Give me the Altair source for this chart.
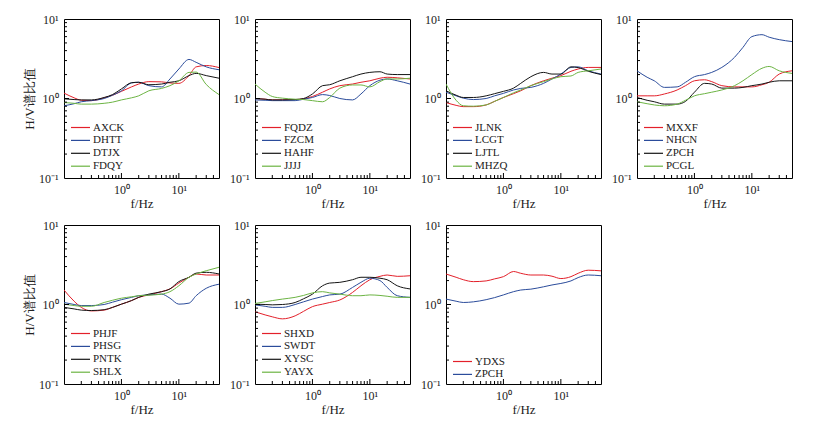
import altair as alt
import pandas as pd

# Frequencies (Hz) at which the curves were read
freq = [0.1, 0.15, 0.2, 0.3, 0.5, 0.7, 1, 1.5, 2, 3, 5, 7, 10, 15, 20, 30, 50]

# Panel 1
AXCK = [1.17, 1.02, 0.95, 0.94, 1.02, 1.1, 1.23, 1.4, 1.52, 1.63, 1.62, 1.57, 1.55, 1.94, 2.5, 2.6, 2.45]
DHTT = [0.81, 0.86, 0.91, 0.94, 1.0, 1.1, 1.25, 1.57, 1.6, 1.45, 1.4, 1.76, 2.35, 3.1, 2.85, 2.5, 2.3]
DTJX = [0.99, 0.97, 0.96, 0.96, 1.03, 1.12, 1.32, 1.58, 1.6, 1.49, 1.52, 1.6, 1.67, 1.94, 2.07, 1.94, 1.8]
FDQY = [0.89, 0.87, 0.85, 0.85, 0.87, 0.9, 0.96, 1.02, 1.08, 1.25, 1.34, 1.45, 1.67, 2.13, 2.15, 1.5, 1.12]
# Panel 2
FQDZ = [1.0, 0.98, 0.96, 0.96, 0.97, 0.99, 1.06, 1.2, 1.32, 1.45, 1.52, 1.6, 1.67, 1.8, 1.85, 1.82, 1.76]
FZCM = [0.96, 0.95, 0.94, 0.94, 0.94, 0.98, 1.03, 1.12, 1.09, 1.0, 0.96, 1.14, 1.45, 1.7, 1.76, 1.67, 1.52]
HAHF = [1.0, 0.98, 0.96, 0.96, 0.97, 1.0, 1.14, 1.45, 1.49, 1.67, 1.88, 2.03, 2.13, 2.17, 2.03, 2.0, 2.0]
JJJJ = [1.52, 1.2, 1.06, 1.01, 0.98, 0.97, 0.94, 0.91, 1.03, 1.35, 1.48, 1.48, 1.4, 1.63, 1.76, 1.76, 1.8]
# Panel 3
JLNK = [0.89, 0.82, 0.79, 0.79, 0.83, 0.92, 1.03, 1.15, 1.25, 1.45, 1.67, 1.8, 1.94, 2.2, 2.35, 2.46, 2.46]
LCGT = [1.2, 1.08, 1.01, 0.97, 1.0, 1.08, 1.16, 1.28, 1.34, 1.38, 1.55, 1.76, 2.03, 2.46, 2.5, 2.23, 2.03]
LJTL = [1.25, 1.1, 1.03, 1.03, 1.08, 1.15, 1.23, 1.35, 1.55, 1.88, 2.13, 2.03, 2.03, 2.5, 2.45, 2.2, 2.0]
MHZQ = [1.52, 0.95, 0.81, 0.8, 0.83, 0.92, 1.03, 1.18, 1.28, 1.45, 1.63, 1.76, 1.88, 1.92, 2.13, 2.23, 2.35]
# Panel 4
MXXF = [1.08, 1.08, 1.08, 1.14, 1.28, 1.45, 1.67, 1.72, 1.63, 1.45, 1.4, 1.4, 1.4, 1.49, 1.6, 2.03, 2.23]
NHCN = [2.23, 1.85, 1.67, 1.38, 1.4, 1.6, 1.88, 2.0, 2.13, 2.46, 3.3, 4.4, 6.0, 6.35, 5.9, 5.5, 5.2]
ZPCH4 = [1.03, 0.95, 0.91, 0.85, 0.85, 0.92, 1.2, 1.55, 1.52, 1.35, 1.35, 1.38, 1.45, 1.52, 1.6, 1.67, 1.67]
PCGL = [0.91, 0.86, 0.83, 0.81, 0.85, 0.95, 1.08, 1.15, 1.2, 1.28, 1.45, 1.67, 2.0, 2.4, 2.53, 2.23, 2.07]
# Panel 5
PHJF = [1.52, 1.1, 0.92, 0.83, 0.85, 0.92, 1.01, 1.12, 1.23, 1.32, 1.45, 1.57, 1.86, 2.2, 2.42, 2.35, 2.35]
PHSG = [1.06, 1.0, 0.97, 0.97, 1.0, 1.07, 1.15, 1.23, 1.29, 1.32, 1.35, 1.2, 1.01, 1.04, 1.29, 1.6, 1.8]
PNTK = [0.92, 0.88, 0.85, 0.84, 0.86, 0.92, 1.01, 1.12, 1.23, 1.35, 1.45, 1.57, 1.94, 2.2, 2.48, 2.54, 2.42]
SHLX = [1.01, 0.97, 0.95, 0.95, 1.06, 1.13, 1.2, 1.25, 1.29, 1.31, 1.35, 1.45, 1.72, 2.2, 2.42, 2.66, 2.94]
# Panel 6
SHXD = [0.81, 0.74, 0.7, 0.66, 0.72, 0.82, 0.94, 1.01, 1.06, 1.14, 1.42, 1.72, 2.05, 2.26, 2.35, 2.26, 2.3]
SWDT = [0.99, 0.95, 0.92, 0.92, 1.0, 1.08, 1.17, 1.26, 1.32, 1.35, 1.64, 1.9, 2.14, 2.0, 1.64, 1.29, 1.23]
XYSC = [1.01, 1.0, 0.99, 1.0, 1.06, 1.18, 1.35, 1.72, 1.86, 1.9, 2.05, 2.2, 2.2, 2.14, 2.05, 1.72, 1.57]
YAYX = [1.03, 1.08, 1.12, 1.17, 1.23, 1.3, 1.4, 1.45, 1.4, 1.35, 1.29, 1.29, 1.32, 1.3, 1.27, 1.23, 1.23]
# Panel 7
YDXS = [2.42, 2.2, 2.05, 1.94, 1.98, 2.1, 2.24, 2.6, 2.47, 2.35, 2.35, 2.27, 2.12, 2.24, 2.47, 2.7, 2.65]
ZPCH7 = [1.17, 1.1, 1.06, 1.08, 1.15, 1.22, 1.32, 1.45, 1.52, 1.56, 1.67, 1.76, 1.84, 1.98, 2.18, 2.35, 2.3]

panels = [
    (["AXCK", "DHTT", "DTJX", "FDQY"], [AXCK, DHTT, DTJX, FDQY]),
    (["FQDZ", "FZCM", "HAHF", "JJJJ"], [FQDZ, FZCM, HAHF, JJJJ]),
    (["JLNK", "LCGT", "LJTL", "MHZQ"], [JLNK, LCGT, LJTL, MHZQ]),
    (["MXXF", "NHCN", "ZPCH", "PCGL"], [MXXF, NHCN, ZPCH4, PCGL]),
    (["PHJF", "PHSG", "PNTK", "SHLX"], [PHJF, PHSG, PNTK, SHLX]),
    (["SHXD", "SWDT", "XYSC", "YAYX"], [SHXD, SWDT, XYSC, YAYX]),
    (["YDXS", "ZPCH"], [YDXS, ZPCH7]),
]

colors = ["#e3202a", "#2b4c9b", "#151515", "#6cb443"]

x_major = [1, 10]
x_minor = [0.2, 0.3, 0.4, 0.5, 0.6, 0.7, 0.8, 0.9, 2, 3, 4, 5, 6, 7, 8, 9, 20, 30, 40]
y_major = [1]
y_minor = [0.2, 0.3, 0.4, 0.5, 0.6, 0.7, 0.8, 0.9, 2, 3, 4, 5, 6, 7, 8, 9]

W, H = 155, 159
X_DEC = W / 2.69897   # pixels per decade on x (0.1 .. 50)
Y_DEC = H / 2.0       # pixels per decade on y (0.1 .. 10)
SERIF = "Liberation Serif"
LABEL_EXPR = "datum.value < 0.5 ? '10\u207b\u00b9' : (datum.value < 5 ? '10\u2070' : '10\u00b9')"


def panel(names, series, show_ytitle):
    rows = []
    for n, s in zip(names, series):
        for f, v in zip(freq, s):
            rows.append({"station": n, "f": f, "hv": v})
    df = pd.DataFrame(rows)
    xt_df = pd.DataFrame({"t": x_major + x_minor,
                          "len": [5] * len(x_major) + [3] * len(x_minor)})
    yt_df = pd.DataFrame({"t": y_major + y_minor,
                          "len": [5] * len(y_major) + [3] * len(y_minor)})

    xs = alt.Scale(type="log", domain=[0.1, 50], nice=False)
    ys = alt.Scale(type="log", domain=[0.1, 10], nice=False)
    xaxis = alt.Axis(values=x_major, labelExpr=LABEL_EXPR, title="f/Hz",
                     ticks=False, tickSize=0, grid=False, domain=False,
                     labelPadding=6, titlePadding=2)
    yaxis = alt.Axis(values=[0.1, 1, 10], labelExpr=LABEL_EXPR,
                     title=("H/V谱比值" if show_ytitle else ""),
                     ticks=False, tickSize=0, grid=False, domain=False,
                     labelPadding=6, titlePadding=2)
    legend_y = 102 if len(names) == 4 else 130

    lines = alt.Chart(df).mark_line(strokeWidth=1, interpolate="monotone", clip=True).encode(
        x=alt.X("f:Q", scale=xs, axis=xaxis),
        y=alt.Y("hv:Q", scale=ys, axis=yaxis),
        color=alt.Color("station:N",
                        scale=alt.Scale(domain=names, range=colors[:len(names)]),
                        legend=alt.Legend(orient="none", legendX=10, legendY=legend_y,
                                          padding=0,
                                          symbolType="M-1.67,0H1.67", symbolSize=130,
                                          symbolStrokeWidth=1.2, labelFont=SERIF,
                                          labelFontSize=11, labelOffset=6, rowPadding=0.9,
                                          labelColor="#222222", title=None)),
        detail="station:N",
    )
    # inward ticks: bottom edge (y from 0.1 up by `len` pixels), left edge likewise
    xt = alt.Chart(xt_df).transform_calculate(
        y0="0.1", y1=f"0.1 * pow(10, datum.len / {Y_DEC})"
    ).mark_rule(color="black", strokeWidth=1).encode(
        x=alt.X("t:Q", scale=xs, axis=xaxis),
        y=alt.Y("y0:Q", scale=ys, axis=yaxis),
        y2="y1:Q",
    )
    yt = alt.Chart(yt_df).transform_calculate(
        x0="0.1", x1=f"0.1 * pow(10, datum.len / {X_DEC})"
    ).mark_rule(color="black", strokeWidth=1).encode(
        y=alt.Y("t:Q", scale=ys, axis=yaxis),
        x=alt.X("x0:Q", scale=xs, axis=xaxis),
        x2="x1:Q",
    )
    return alt.layer(lines, xt, yt).properties(width=W, height=H)


charts = [panel(n, s, i in (0, 4)) for i, (n, s) in enumerate(panels)]

chart = alt.concat(
    *charts, columns=4, spacing={"row": 47, "column": 36}, bounds="flush"
).resolve_scale(
    color="independent"
).configure_view(
    stroke="black", strokeWidth=1
).configure_axis(
    labelFont=SERIF, labelFontSize=12, labelColor="#222222",
    titleFont=SERIF, titleFontSize=13, titleFontWeight="normal", titleColor="#222222",
).properties(
    padding={"left": 14, "top": 4, "right": 5, "bottom": 5},
    background="white",
)

chart.save("out.html", embed_options={"renderer": "svg", "actions": False})
